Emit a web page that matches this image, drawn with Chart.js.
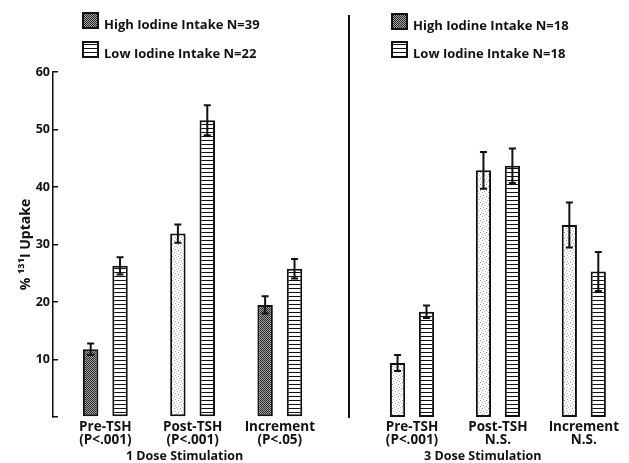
<!DOCTYPE html>
<html>
<head>
<meta charset="utf-8">
<script src="https://cdn.jsdelivr.net/npm/chart.js@4.4.0/dist/chart.umd.min.js"></script>
<style>
  body { margin: 0; background: #fff; }
  #wrap { position: relative; width: 629px; height: 463px; }
  #left { position: absolute; left: 0; top: 0; }
  #right { position: absolute; left: 350px; top: 0; }
  #divider { position: absolute; left: 348px; top: 15px; width: 2px; height: 403px; background: #111; }
</style>
</head>
<body>
<div id="wrap">
  <canvas id="left" width="318" height="463"></canvas>
  <div id="divider"></div>
  <canvas id="right" width="272" height="463"></canvas>
</div>
<script>
const measures = ['Pre-TSH', 'Post-TSH', 'Increment'];
const oneDoseP = ['(P<.001)', '(P<.001)', '(P<.05)'];
const threeDoseP = ['(P<.001)', 'N.S.', 'N.S.'];
const positions = [1, 2, 3];
const yTicks = [0, 10, 20, 30, 40, 50, 60];

// 1 dose stimulation
const oneDoseHigh = [11.8, 31.9, 19.5];
const oneDoseHighErr = [1.0, 1.6, 1.5];
const oneDoseLow = [26.3, 51.6, 25.8];
const oneDoseLowErr = [1.5, 2.6, 1.7];

// 3 dose stimulation
const threeDoseHigh = [9.4, 42.9, 33.4];
const threeDoseHighErr = [1.4, 3.2, 3.9];
const threeDoseLow = [18.3, 43.7, 25.3];
const threeDoseLowErr = [1.1, 3.0, 3.4];

const INK = '#111';
const FONT = '"Open Sans", Lato, sans-serif';
Chart.defaults.font.family = FONT;
Chart.defaults.color = INK;

function pattern(w, h, paint) {
  const c = document.createElement('canvas');
  c.width = w; c.height = h;
  const g = c.getContext('2d');
  paint(g);
  return g.createPattern(c, 'repeat');
}

const darkDots = pattern(2, 2, g => {
  g.fillStyle = '#a8a8a8'; g.fillRect(0, 0, 2, 2);
  g.fillStyle = '#222'; g.fillRect(0, 0, 1, 1); g.fillRect(1, 1, 1, 1);
});
const lightDots = pattern(6, 6, g => {
  g.fillStyle = '#fff'; g.fillRect(0, 0, 6, 6);
  const specks = [[0, 0, '#999'], [3, 1, '#bbb'], [1, 3, '#aaa'], [4, 4, '#999'], [5, 2, '#ccc'], [2, 5, '#bbb']];
  specks.forEach(([x, y, c]) => { g.fillStyle = c; g.fillRect(x, y, 1, 1); });
});
const stripes = pattern(1, 4, g => {
  g.fillStyle = '#fff'; g.fillRect(0, 0, 1, 4);
  g.fillStyle = INK; g.fillRect(0, 0, 1, 1);
});

const errorBars = {
  id: 'errorBars',
  afterDatasetsDraw(chart) {
    const ctx = chart.ctx;
    const y = chart.scales.y;
    ctx.save();
    ctx.strokeStyle = INK;
    ctx.lineWidth = 2;
    chart.data.datasets.forEach((ds, d) => {
      chart.getDatasetMeta(d).data.forEach((bar, i) => {
        const v = ds.data[i].y, e = ds.errors[i];
        const top = y.getPixelForValue(v + e), bot = y.getPixelForValue(v - e);
        ctx.beginPath();
        ctx.moveTo(bar.x, top); ctx.lineTo(bar.x, bot);
        ctx.moveTo(bar.x - 3.5, top); ctx.lineTo(bar.x + 3.5, top);
        ctx.moveTo(bar.x - 3.5, bot); ctx.lineTo(bar.x + 3.5, bot);
        ctx.stroke();
      });
    });
    ctx.restore();
  }
};

// legend drawn as two stacked rows in the top-left of each panel
const panelLegend = {
  id: 'panelLegend',
  afterDraw(chart, args, opts) {
    const ctx = chart.ctx;
    ctx.save();
    ctx.font = 'bold 13px ' + FONT;
    ctx.textBaseline = 'alphabetic';
    chart.data.datasets.forEach((ds, i) => {
      const y = opts.y + i * opts.gap;
      ctx.fillStyle = ds.legendFill;
      ctx.fillRect(opts.x, y, 15, 15);
      ctx.lineWidth = 2;
      ctx.strokeStyle = INK;
      ctx.strokeRect(opts.x, y, 15, 15);
      ctx.fillStyle = INK;
      ctx.fillText(ds.label, opts.x + 21, y + 15.5);
    });
    ctx.restore();
  }
};

const toPoints = vals => positions.map((x, i) => ({ x: x, y: vals[i] }));

function panel(canvas, p) {
  return new Chart(canvas, {
    type: 'bar',
    data: {
      datasets: [
        { label: p.highLabel, data: toPoints(p.high), errors: p.highErr,
          backgroundColor: p.highFill, legendFill: darkDots },
        { label: p.lowLabel, data: toPoints(p.low), errors: p.lowErr,
          backgroundColor: stripes, legendFill: stripes }
      ]
    },
    options: {
      responsive: false,
      animation: false,
      devicePixelRatio: 1,
      layout: { padding: { top: 72, left: 0, right: 0, bottom: 0 } },
      datasets: {
        bar: {
          borderColor: INK, borderWidth: 2, borderSkipped: false,
          categoryPercentage: 0.674, barPercentage: 0.525
        }
      },
      plugins: {
        legend: { display: false },
        tooltip: { enabled: false },
        panelLegend: p.legendAt
      },
      scales: {
        x: {
          type: 'linear', min: p.xMin, max: p.xMax, offset: false,
          afterBuildTicks: s => { s.ticks = positions.map(v => ({ value: v })); },
          afterFit: s => { s.height = 46; },
          grid: { display: false, drawTicks: false },
          border: { display: false },
          ticks: {
            callback: (v, i) => [measures[i], p.pLabels[i]],
            padding: 3, maxRotation: 0, autoSkip: false, color: INK,
            font: { size: 13.5, weight: 'bold', lineHeight: 1.0 }
          },
          title: {
            display: true, text: p.title, color: INK,
            font: { size: 12.5, weight: 'bold', lineHeight: 1 },
            padding: { top: 0, bottom: 0 }
          }
        },
        y: {
          display: p.showY, min: 0, max: 60,
          afterBuildTicks: s => { s.ticks = yTicks.map(v => ({ value: v })); },
          afterFit: s => { if (p.showY) s.width = 53; },
          grid: { drawOnChartArea: false, tickLength: -5, color: INK, lineWidth: 1.5 },
          border: { color: INK, width: 1.5 },
          ticks: {
            callback: v => (v === 0 ? '' : v),
            padding: 8, color: INK,
            font: { size: 12.5, weight: 'bold' }
          },
          title: {
            display: true, text: '% \u00B9\u00B3\u00B9I Uptake', color: INK,
            font: { size: 14, weight: 'bold', lineHeight: 1.2 },
            padding: { top: 18, bottom: 0 }
          }
        }
      }
    },
    plugins: [errorBars, panelLegend]
  });
}

panel(document.getElementById('left'), {
  title: '1 Dose Stimulation', pLabels: oneDoseP, showY: true,
  xMin: 0.4, xMax: 3.417,
  high: oneDoseHigh, highErr: oneDoseHighErr, highFill: [darkDots, lightDots, darkDots],
  low: oneDoseLow, lowErr: oneDoseLowErr,
  highLabel: 'High Iodine Intake N=39', lowLabel: 'Low Iodine Intake N=22',
  legendAt: { x: 83, y: 13, gap: 29 }
});

panel(document.getElementById('right'), {
  title: '3 Dose Stimulation', pLabels: threeDoseP, showY: false,
  xMin: 0.278, xMax: 3.369,
  high: threeDoseHigh, highErr: threeDoseHighErr, highFill: lightDots,
  low: threeDoseLow, lowErr: threeDoseLowErr,
  highLabel: 'High Iodine Intake N=18', lowLabel: 'Low Iodine Intake N=18',
  legendAt: { x: 42, y: 14, gap: 28 }
});
</script>
</body>
</html>
